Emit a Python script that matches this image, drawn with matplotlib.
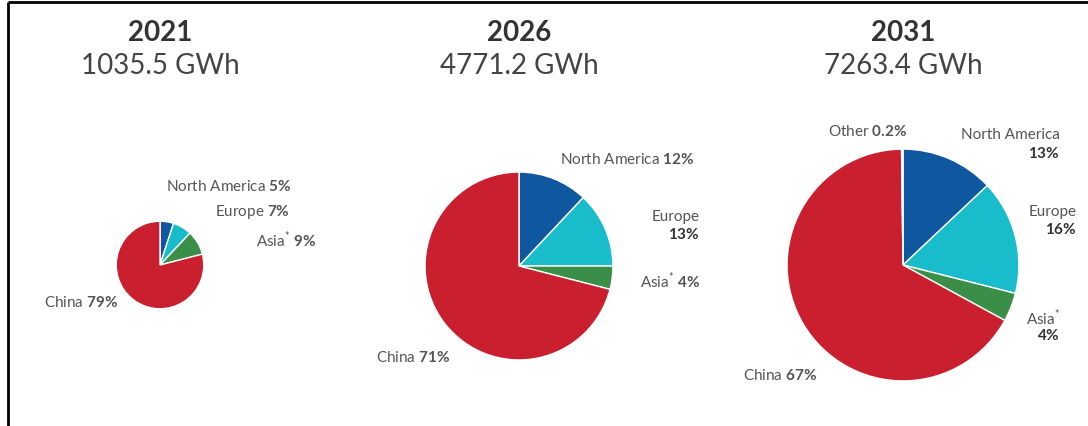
import numpy as np
import matplotlib
matplotlib.use('Agg')
import matplotlib.pyplot as plt

# Data.
years = ['2021', '2026', '2031']
totals = [1035.5, 4771.2, 7263.4]
regions = ['North America', 'Europe', 'Asia$^{*}$', 'China', 'Other']
shares_2021 = [5, 7, 9, 79, 0]
shares_2026 = [12, 13, 4, 71, 0]
shares_2031 = [13, 16, 4, 67, 0.2]
shares = [shares_2021, shares_2026, shares_2031]

colors = ['#0f58a0', '#19bccb', '#3a8e47', '#c91f2e', '#c91f2e']

plt.rcParams['font.family'] = ['Lato', 'DejaVu Sans']
plt.rcParams['mathtext.fontset'] = 'custom'
plt.rcParams['mathtext.rm'] = 'Lato'
plt.rcParams['mathtext.bf'] = 'Lato:bold'

W, H = 1088, 427
fig = plt.figure(figsize=(W / 100, H / 100), dpi=100)
ax = fig.add_axes([0, 0, 1, 1])


def Y(y):
    # pixel row from the top -> data y
    return H - y


centers = [(160, 266), (519, 267), (903, 266)]
k = 1.36  # pie radius grows with sqrt of the total

for i in range(3):
    vals = [v for v in shares[i] if v > 0]
    cols = [c for v, c in zip(shares[i], colors) if v > 0]
    cx, cy = centers[i]
    ax.pie(vals, colors=cols, startangle=90, counterclock=False,
           center=(cx, Y(cy)), radius=k * np.sqrt(totals[i]),
           wedgeprops=dict(edgecolor='white', linewidth=1))
    ax.text(cx, Y(33), years[i], ha='center', va='center',
            fontsize=20, fontweight='bold', color='#333333')
    ax.text(cx, Y(66), f'{totals[i]} GWh', ha='center', va='center',
            fontsize=20, fontweight='normal', color='#444444')


def label(x, y, name, pct, ha='left', two_lines=False):
    p = pct.replace('%', r'\%')
    if two_lines:
        ax.text(x, Y(y), name, ha=ha, va='center', fontsize=11, color='#555555')
        ax.text(x, Y(y + 18), '$\\mathbf{' + p + '}$', ha=ha, va='center',
                fontsize=11, color='#333333')
    else:
        ax.text(x, Y(y), name + ' ' + '$\\mathbf{' + p + '}$', ha=ha,
                va='center', fontsize=11, color='#555555')


# 2021
label(291, 187, regions[0], f'{shares_2021[0]}%', ha='right')
label(290, 212, regions[1], f'{shares_2021[1]}%', ha='right')
label(316, 240, regions[2], f'{shares_2021[2]}%', ha='right')
label(44, 303, regions[3], f'{shares_2021[3]}%')
# 2026
label(694, 160, regions[0], f'{shares_2026[0]}%', ha='right')
label(700, 217, regions[1], f'{shares_2026[1]}%', ha='right', two_lines=True)
label(700, 281, regions[2], f'{shares_2026[2]}%', ha='right')
label(376, 358, regions[3], f'{shares_2026[3]}%')
# 2031
label(907, 131, regions[4], f'{shares_2031[4]}%', ha='right')
label(1060, 135, regions[0], f'{shares_2031[0]}%', ha='right', two_lines=True)
label(1077, 212, regions[1], f'{shares_2031[1]}%', ha='right', two_lines=True)
label(1060, 318, regions[2], f'{shares_2031[2]}%', ha='right', two_lines=True)
label(743, 376, regions[3], f'{shares_2031[3]}%')

# frame lines on the left and top
ax.plot([8, 8], [Y(3), 0], color='black', linewidth=2, solid_capstyle='butt')
ax.plot([8, W], [Y(3), Y(3)], color='black', linewidth=2, solid_capstyle='butt')

ax.set_xlim(0, W)
ax.set_ylim(0, H)
ax.set_aspect('auto')
ax.axis('off')

fig.savefig('out.png', dpi=100, facecolor='white')
